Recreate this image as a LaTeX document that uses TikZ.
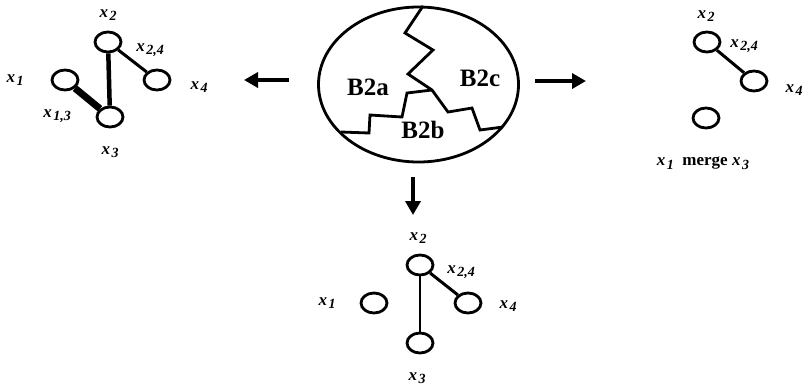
\documentclass[tikz,border=0pt]{standalone}
\usepackage{fontspec}
\setmainfont{Liberation Serif}
\usetikzlibrary{shapes.geometric,arrows.meta}
\newcommand{\xv}[1]{\textit{x}\kern1.5pt\raisebox{-0.45ex}{\fontsize{14}{14}\selectfont\textit{#1}}}
\begin{document}
\begin{tikzpicture}[x=1pt,y=-1pt,
  vert/.style={ellipse,draw,line width=2.8pt,minimum width=26pt,minimum height=20pt,inner sep=0pt},
  lbl/.style={font=\fontsize{17}{17}\selectfont\bfseries,inner sep=0pt},
  part/.style={font=\fontsize{25}{25}\selectfont\bfseries,inner sep=0pt},
  bigarrow/.style={line width=3.5pt,-{Triangle[length=14pt,width=15pt]}}]
\useasboundingbox (0,0) rectangle (806,389);
% the split block
\node[ellipse,draw,line width=2.8pt,minimum width=200pt,minimum height=155pt,inner sep=0pt] (blob) at (418.5,84.5) {};
\draw[line width=2.8pt,line join=miter] (423,6) -- (405,33) -- (433,50) -- (408,74) -- (432,90)
  -- (448,112) -- (472,108) -- (480,130) -- (503,127);
\draw[line width=2.8pt,line join=miter] (432,90) -- (407,93) -- (402,117) -- (370,115) -- (369,133) -- (341,132);
\node[part] (pa) at (368,87) {B2a};
\node[part] (pc) at (480,78) {B2c};
\node[part] (pb) at (423,130) {B2b};
% arrows
\coordinate (la0) at (289,80);
\coordinate (la1) at (244,80);
\coordinate (ra0) at (535,81);
\coordinate (ra1) at (586,81);
\coordinate (da0) at (413,177);
\coordinate (da1) at (413,215);
\draw[bigarrow] (la0) -- (la1);
\draw[bigarrow] (ra0) -- (ra1);
\draw[bigarrow] (da0) -- (da1);
% left result
\node[vert] (l1) at (65,80) {};
\node[vert] (l2) at (108,42) {};
\node[vert] (l3) at (110,117) {};
\node[vert] (l4) at (157,80) {};
\draw[line width=7pt] (l1) -- (l3);
\draw[line width=4.5pt] (l2) -- (l3);
\draw[line width=3pt] (l2) -- (l4);
\node[lbl] (l1t) at (15,80) {\xv{1}};
\node[lbl] (l2t) at (108,15) {\xv{2}};
\node[lbl] (l3t) at (110,152) {\xv{3}};
\node[lbl] (l4t) at (199,87) {\xv{4}};
\node[lbl] (l13t) at (57,116) {\xv{1,3}};
\node[lbl] (l24t) at (150,50) {\xv{2,4}};
% bottom result
\node[vert] (b1) at (374,303) {};
\node[vert] (b2) at (420,265) {};
\node[vert] (b3) at (420,343) {};
\node[vert] (b4) at (468,303) {};
\draw[line width=2.5pt] (b2) -- (b3);
\draw[line width=3pt] (b2) -- (b4);
\node[lbl] (b1t) at (327,303) {\xv{1}};
\node[lbl] (b2t) at (418,238) {\xv{2}};
\node[lbl] (b3t) at (417,378) {\xv{3}};
\node[lbl] (b4t) at (508,306) {\xv{4}};
\node[lbl] (b24t) at (461,272) {\xv{2,4}};
% right result
\node[vert] (r2) at (707,42) {};
\node[vert] (r4) at (754,81) {};
\node[vert] (r13) at (706,118) {};
\draw[line width=3pt] (r2) -- (r4);
\node[lbl] (r2t) at (706,16) {\xv{2}};
\node[lbl] (r4t) at (794,90) {\xv{4}};
\node[lbl] (r24t) at (744,46) {\xv{2,4}};
\node[lbl] (r13t) at (703,163) {\xv{1}\ \ merge \xv{3}};
\end{tikzpicture}
\end{document}
